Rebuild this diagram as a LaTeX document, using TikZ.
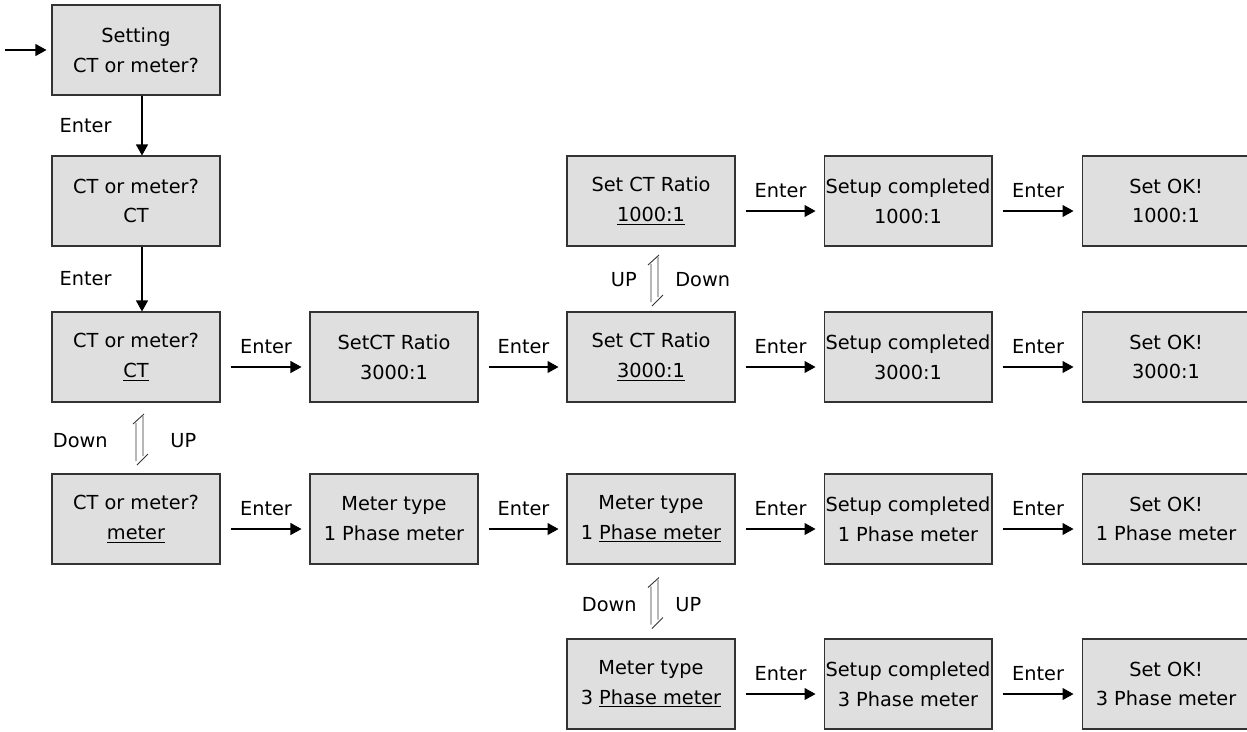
\documentclass[tikz,border=0pt]{standalone}
\usepackage{fontspec}
\setmainfont{DejaVu Sans}
\usetikzlibrary{arrows.meta,calc}

\begin{document}
\begin{tikzpicture}[x=0.02cm, y=-0.02cm, >={Triangle[length=0.22cm,width=0.24cm]},
  font=\fontsize{11}{17}\selectfont,
  box/.style={draw=black!80, fill=gray!25, line width=0.6pt, minimum width=3.36cm,
    minimum height=1.8cm, inner sep=0pt, align=center},
  lbl/.style={inner sep=0pt},
  link/.style={->, line width=0.6pt}]
  \useasboundingbox (0,0) rectangle (1247,731);

  % First column: CT or meter
  \node[box] (set) at (136,50)  {Setting\\CT or meter?};
  \node[box] (ct1) at (136,201) {CT or meter?\\CT};
  \node[box] (ct2) at (136,357) {CT or meter?\\\underline{CT}};
  \node[box] (ctm) at (136,519) {CT or meter?\\\underline{meter}};

  % Second column
  \node[box] (ratio) at (394,357) {SetCT Ratio\\3000:1};
  \node[box] (mtype) at (394,519) {Meter type\\1 Phase meter};

  % Third column: choose the value
  \node[box] (r1000) at (651,201) {Set CT Ratio\\\underline{1000:1}};
  \node[box] (r3000) at (651,357) {Set CT Ratio\\\underline{3000:1}};
  \node[box] (ph1)   at (651,519) {Meter type\\1 \underline{Phase meter}};
  \node[box] (ph3)   at (651,684) {Meter type\\3 \underline{Phase meter}};

  % Fourth column: setup completed
  \node[box] (done1000) at (908,201) {Setup completed\\1000:1};
  \node[box] (done3000) at (908,357) {Setup completed\\3000:1};
  \node[box] (done1)    at (908,519) {Setup completed\\1 Phase meter};
  \node[box] (done3)    at (908,684) {Setup completed\\3 Phase meter};

  % Fifth column: set OK
  \node[box] (ok1000) at (1166,201) {Set OK!\\1000:1};
  \node[box] (ok3000) at (1166,357) {Set OK!\\3000:1};
  \node[box] (ok1)    at (1166,519) {Set OK!\\1 Phase meter};
  \node[box] (ok3)    at (1166,684) {Set OK!\\3 Phase meter};

  % Entry arrow
  \coordinate (in) at (5,50);
  \draw[link] (in) -- ([xshift=-0.1cm]set.west);

  % Vertical Enter arrows
  \draw[link] ([xshift=0.12cm]set.south) -- ([xshift=0.12cm]ct1.north)
    node[midway, left=0.6cm, lbl] {Enter};
  \draw[link] ([xshift=0.12cm]ct1.south) -- ([xshift=0.12cm]ct2.north)
    node[midway, left=0.6cm, lbl] {Enter};

  % Horizontal Enter arrows
  \foreach \a/\b in {ct2/ratio, ratio/r3000, r3000/done3000, done3000/ok3000,
                     r1000/done1000, done1000/ok1000,
                     ctm/mtype, mtype/ph1, ph1/done1, done1/ok1,
                     ph3/done3, done3/ok3}
    \draw[link] ([xshift=0.2cm,yshift=-0.2cm]\a.east) -- ([xshift=-0.16cm,yshift=-0.2cm]\b.west)
      node[midway, above=0.26cm, lbl] {Enter};

  % Up/Down switches
  \coordinate (h1) at ($(ct2.south)!0.5!(ctm.north)$);
  \coordinate (h2) at ($(r1000.south)!0.5!(r3000.north)$);
  \coordinate (h3) at ($(ph1.south)!0.5!(ph3.north)$);
  \foreach \h in {h1,h2,h3} {
    \draw[black!80, line width=0.5pt] (\h) ++(0,23) -- ++(0,-38) ++(-3,1) -- ++(11,-10);
    \draw[black!80, line width=0.5pt] (\h) ++(7,-22) -- ++(0,40) ++(-6,9) -- ++(11,-11);
  }
  \node[lbl, left]  at ($(h1)+(-28,3)$) {Down};
  \node[lbl, right] at ($(h1)+(34,3)$)  {UP};
  \node[lbl, left]  at ($(h2)+(-14,1)$) {UP};
  \node[lbl, right] at ($(h2)+(24,1)$)  {Down};
  \node[lbl, left]  at ($(h3)+(-14,3)$) {Down};
  \node[lbl, right] at ($(h3)+(24,3)$)  {UP};
\end{tikzpicture}
\end{document}
